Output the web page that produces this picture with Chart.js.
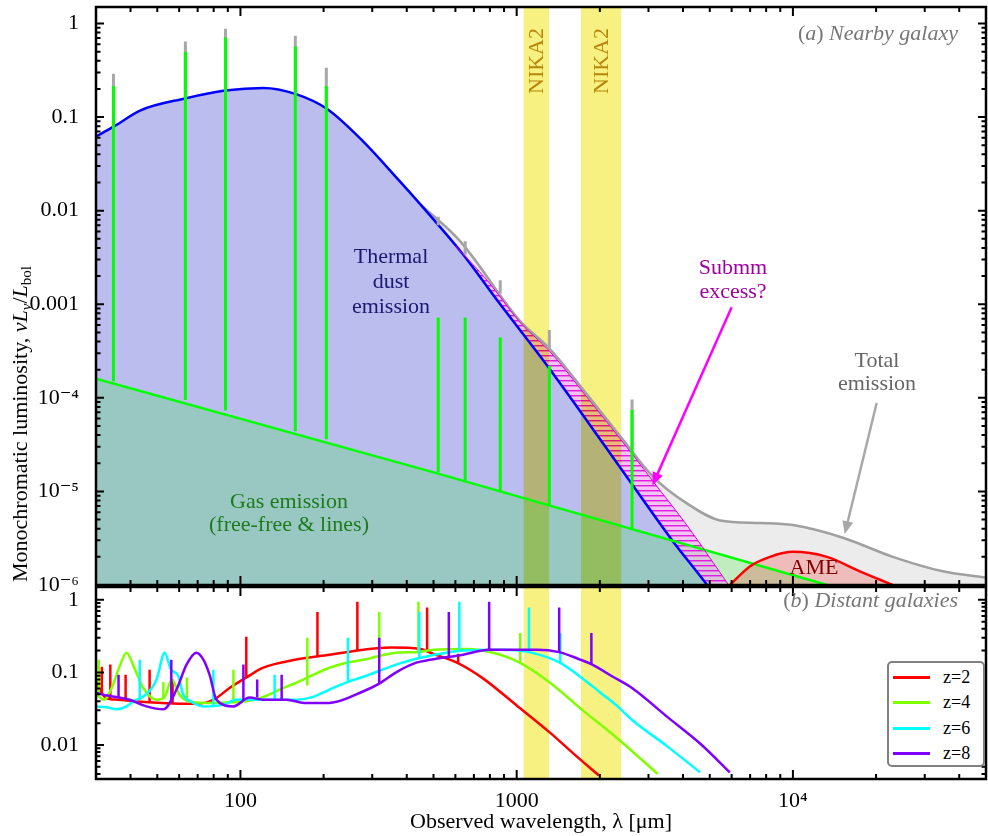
<!DOCTYPE html>
<html>
<head>
<meta charset="utf-8">
<title>Galaxy SEDs - nearby and distant</title>
<script src="https://cdn.jsdelivr.net/npm/chart.js@4.4.1/dist/chart.umd.min.js"></script>
<style>
    body { margin: 0; background: #fff; }
    #wrap { position: relative; width: 988px; height: 836px; overflow: hidden;
            font-family: "Liberation Serif", "DejaVu Serif", serif; color: #000; }
    #wrap canvas { position: absolute; left: 0; }
    #topChart { top: 0; }
    #bottomChart { top: 580px; }
    .note { position: absolute; transform: translate(-50%, -50%); text-align: center;
            white-space: nowrap; font-size: 22px; }
    .panel { position: absolute; right: 30px; transform: translateY(-50%);
             font-size: 22px; color: #777; white-space: nowrap; }
    #yTitle { position: absolute; left: 20px; top: 424px; white-space: nowrap; font-size: 22px;
              transform: translate(-50%, -50%) rotate(-90deg); }
    #yTitle sub { font-size: 15px; vertical-align: -4px; line-height: 0; }
    #legend { position: absolute; left: 887px; top: 661px; width: 98px; height: 106px;
              box-sizing: border-box; border: 2px solid #808080; border-radius: 5px;
              background: #fff; padding-top: 2px; }
    .row { height: 25.3px; display: flex; align-items: center; }
    .swatch { width: 37px; height: 3px; margin-left: 4px; }
    .txt { margin-left: 13px; font-size: 18px; }
</style>
</head>
<body>
<div id="wrap">
    <canvas id="topChart" width="988" height="600"></canvas>
    <canvas id="bottomChart" width="988" height="256"></canvas>

    <div class="note" style="left:391px; top:280px; line-height:25px; color:#191970;">Thermal<br>dust<br>emission</div>
    <div class="note" style="left:733px; top:279px; line-height:24px; color:#a000a0;">Submm<br>excess?</div>
    <div class="note" style="left:877px; top:371px; line-height:23px; color:#666;">Total<br>emission</div>
    <div class="note" style="left:289px; top:512px; line-height:23px; color:#1c7c1c;">Gas emission<br>(free-free &amp; lines)</div>
    <div class="note" style="left:814px; top:567px; color:#800000;">AME</div>
    <div class="panel" style="top:33px;">(<i>a</i>) <i>Nearby galaxy</i></div>
    <div class="panel" style="top:600px;">(<i>b</i>) <i>Distant galaxies</i></div>
    <div id="yTitle">Monochromatic luminosity, <i>νL</i><sub><i>ν</i></sub>/<i>L</i><sub>bol</sub></div>
    <div id="legend"></div>
</div>

<script>
const FONT = '"Liberation Serif", "DejaVu Serif", serif';

// shared wavelength axis [micron]
const xMin = 30, xMax = 50000;
const xTickValues = [100, 1000, 10000];
const xTickLabels = ['100', '1000', '10⁴'];

// panel (a) luminosity axis
const yMinA = 1e-6, yMaxA = 1.5;
const yTickValuesA = [1e-6, 1e-5, 1e-4, 0.001, 0.01, 0.1, 1];
const yTickLabelsA = ['10⁻⁶', '10⁻⁵', '10⁻⁴', '0.001', '0.01', '0.1', '1'];

// panel (b) luminosity axis
const yMinB = 0.0034, yMaxB = 1.5;
const yTickValuesB = [0.01, 0.1, 1];
const yTickLabelsB = ['0.01', '0.1', '1'];

// NIKA2 bands
const nikaFrom = [1060, 1710];
const nikaTo = [1310, 2390];

// ---- panel (a): nearby galaxy ----
const dustLam = [30, 35, 43.5, 63, 88, 121, 158, 206, 278, 370, 449, 640, 850, 1322, 2650, 3670, 4890, 6000];
const dustLum = [0.062, 0.080, 0.118, 0.158, 0.192, 0.205, 0.177, 0.122, 0.055, 0.022, 0.0116, 0.0034, 0.0011, 2.0e-4, 1.13e-5, 2.96e-6, 1.0e-6, 4.4e-7];

const gasLam = [30, 520, 13300];
const gasLum = [1.6e-4, 1.55e-5, 1.0e-6];

const totalLam = [449, 625, 1029, 1322, 1804, 2367, 3104, 4146, 5450, 7600, 10000, 15170, 23000, 34870, 50000];
const totalLum = [0.0116, 0.0047, 6.6e-4, 3.3e-4, 1.07e-4, 3.9e-5, 1.45e-5, 7.4e-6, 4.9e-6, 4.6e-6, 4.37e-6, 3.2e-6, 2.0e-6, 1.4e-6, 1.2e-6];

const excessLam = [600, 782, 1029, 1322, 1804, 2650, 3104, 4146, 5000, 5850];
const excessLum = [0.0042, 0.0018, 6.4e-4, 3.1e-4, 1.0e-4, 2.4e-5, 1.3e-5, 4.3e-6, 1.96e-6, 1.0e-6];

const ameLam = [5920, 6980, 8260, 10000, 13270, 17470, 23000];
const ameLum = [1.0e-6, 1.58e-6, 2.0e-6, 2.26e-6, 2.0e-6, 1.4e-6, 1.0e-6];

// fine-structure and CO lines
const lineLam = [34.7, 63.2, 88.3, 158, 204.6, 520, 651, 872, 1313, 2616];
const lineGasBase = [1.5e-4, 9.5e-5, 7.3e-5, 4.4e-5, 3.6e-5, 1.6e-5, 1.3e-5, 1.0e-5, 7.0e-6, 4.0e-6];
const lineGasTop = [0.215, 0.50, 0.71, 0.566, 0.215, 7.2e-4, 7.2e-4, 4.4e-4, 2.2e-4, 7.4e-5];
const lineTotalBase = [0.08, 0.16, 0.19, 0.177, 0.122, 0.007, 0.0034, 0.0013, 3.3e-4, 2.8e-5];
const lineTotalTop = [0.29, 0.64, 0.88, 0.74, 0.336, 0.0086, 0.0047, 0.0018, 5.3e-4, 9.6e-5];

// annotation arrows [lambda, lum]
const arrowFrom = [[6000, 9.3e-4], [20100, 8.8e-5]];
const arrowTo = [[3100, 1.16e-5], [15400, 3.5e-6]];
const arrowColor = ['#ff00ff', '#a8a8a8'];

// ---- panel (b): distant galaxies ----
const z2ContLam = [30.1, 30.8, 32.5, 36, 45, 60, 70, 80, 91.3, 105, 121, 159, 210, 279, 349, 448, 499, 608, 757, 1000, 1320, 1594, 1985];
const z2ContLum = [0.075, 0.06, 0.045, 0.042, 0.039, 0.037, 0.037, 0.042, 0.061, 0.085, 0.116, 0.15, 0.175, 0.205, 0.22, 0.21, 0.18, 0.136, 0.082, 0.035, 0.0148, 0.0078, 0.0038];
const z2LineLam = [31.5, 33.8, 38.4, 46.9, 56.8, 105, 190, 265, 474, 614];
const z2LineBase = [0.052, 0.044, 0.041, 0.039, 0.038, 0.085, 0.165, 0.2, 0.19, 0.133];
const z2LineTop = [0.12, 0.128, 0.093, 0.109, 0.08, 0.31, 0.68, 0.94, 0.78, 0.18];

const z4ContLam = [30.1, 32, 34.7, 36.5, 38.7, 41.1, 44.6, 49.7, 53, 56.5, 60, 65, 75.4, 105, 121, 138.5, 159, 210, 242, 279, 366, 433, 499, 662, 872, 1030, 1320, 1735, 2300, 3240];
const z4ContLum = [0.05, 0.042, 0.07, 0.12, 0.187, 0.12, 0.06, 0.042, 0.045, 0.08, 0.05, 0.04, 0.038, 0.04, 0.046, 0.058, 0.072, 0.116, 0.136, 0.149, 0.187, 0.19, 0.205, 0.21, 0.175, 0.135, 0.072, 0.03, 0.0126, 0.004];
const z4LineLam = [30.7, 52.6, 64, 94.3, 174.6, 318, 441, 1030];
const z4LineBase = [0.05, 0.044, 0.04, 0.038, 0.066, 0.17, 0.19, 0.135];
const z4LineTop = [0.149, 0.074, 0.085, 0.109, 0.30, 0.68, 0.94, 0.35];

const z6ContLam = [30.1, 32.8, 35.6, 38.7, 41, 45.7, 49.7, 53.2, 56, 59.5, 62, 66, 73.5, 86.8, 96.7, 111.4, 159, 183.6, 210, 245, 279, 366, 433, 486, 640, 872, 1108, 1438, 1735, 2006, 2300, 2630, 3480, 4612];
const z6ContLum = [0.034, 0.033, 0.031, 0.034, 0.04, 0.05, 0.08, 0.187, 0.11, 0.09, 0.05, 0.04, 0.034, 0.036, 0.042, 0.042, 0.042, 0.046, 0.058, 0.074, 0.087, 0.128, 0.154, 0.17, 0.2, 0.205, 0.19, 0.135, 0.082, 0.053, 0.035, 0.0217, 0.0098, 0.0042];
const z6LineLam = [43.2, 79.8, 133, 245, 444, 620, 1108, 1438];
const z6LineBase = [0.042, 0.035, 0.042, 0.074, 0.155, 0.19, 0.19, 0.135];
const z6LineTop = [0.149, 0.109, 0.093, 0.30, 0.68, 0.94, 0.78, 0.35];

const z8ContLam = [30.1, 33, 39.7, 45.7, 52.6, 58.7, 63.8, 69.3, 73.5, 77.3, 81.9, 94.3, 107.8, 121, 147, 170, 210, 279, 318, 366, 433, 486, 640, 795, 967, 1185, 1425, 1698, 1864, 2230, 2630, 3480, 4612, 5910];
const z8ContLum = [0.052, 0.048, 0.042, 0.034, 0.031, 0.058, 0.128, 0.187, 0.149, 0.093, 0.042, 0.034, 0.045, 0.042, 0.042, 0.038, 0.038, 0.055, 0.07, 0.1, 0.136, 0.149, 0.175, 0.205, 0.205, 0.205, 0.19, 0.15, 0.13, 0.087, 0.06, 0.025, 0.0105, 0.0042];
const z8LineLam = [36.2, 56.2, 102.5, 115, 141, 318, 568, 795, 1425, 1864];
const z8LineBase = [0.045, 0.04, 0.042, 0.045, 0.042, 0.07, 0.16, 0.205, 0.19, 0.13];
const z8LineTop = [0.093, 0.149, 0.128, 0.08, 0.093, 0.30, 0.68, 0.94, 0.78, 0.35];

const zNames = ['z=2', 'z=4', 'z=6', 'z=8'];
const zColors = ['#ff0000', '#7fff00', '#00ffff', '#7f00ff'];


function pts(lam, lum) {
    return lam.map((l, i) => ({ x: l, y: lum[i] }));
}

// vertical line segments separated by gaps
function spikes(lam, lo, hi) {
    const out = [];
    lam.forEach((l, i) => {
        out.push({ x: l, y: lo[i] }, { x: l, y: hi[i] }, { x: l, y: null });
    });
    return out;
}

function minorTicks(min, max) {
    const out = [];
    for (let e = Math.floor(Math.log10(min)); Math.pow(10, e) < max; e++) {
        for (let m = 2; m <= 9; m++) {
            const v = m * Math.pow(10, e);
            if (v > min && v < max) out.push(v);
        }
    }
    return out;
}

function makeHatch() {
    const c = document.createElement('canvas');
    c.width = 8; c.height = 5;
    const g = c.getContext('2d');
    g.fillStyle = 'rgba(250,150,250,0.45)';
    g.fillRect(0, 0, 8, 5);
    g.fillStyle = 'rgb(225,30,225)';
    g.fillRect(0, 0, 8, 1);
    g.fillStyle = 'rgba(225,30,225,0.45)';
    g.fillRect(0, 1, 8, 1);
    return g.createPattern(c, 'repeat');
}

// frame with inward ticks on all four sides (Mathematica style)
const frameTicks = {
    id: 'frameTicks',
    afterDatasetsDraw(chart, args, opts) {
        const { ctx, chartArea: a } = chart;
        const x = chart.scales.x, y = chart.scales.y;
        ctx.save();
        ctx.strokeStyle = '#000';
        ctx.lineWidth = 2;
        ctx.beginPath();
        const xt = (list, len) => list.forEach(v => {
            const px = x.getPixelForValue(v);
            ctx.moveTo(px, a.top); ctx.lineTo(px, a.top + len);
            ctx.moveTo(px, a.bottom); ctx.lineTo(px, a.bottom - len);
        });
        const yt = (list, len) => list.forEach(v => {
            const py = y.getPixelForValue(v);
            ctx.moveTo(a.left, py); ctx.lineTo(a.left + len, py);
            ctx.moveTo(a.right, py); ctx.lineTo(a.right - len, py);
        });
        xt(xTickValues, 9);
        xt(minorTicks(xMin, xMax), 5);
        yt(opts.major, 8);
        yt(minorTicks(opts.min, opts.max), 4.5);
        ctx.stroke();
        ctx.lineWidth = 2.5;
        ctx.strokeRect(a.left, a.top, a.right - a.left, a.bottom - a.top);
        ctx.restore();
    }
};

// NIKA2 bands: over the fills, under the lines
const nikaBands = {
    id: 'nikaBands',
    beforeDatasetsDraw(chart, args, opts) {
        const { ctx, chartArea: a } = chart;
        const x = chart.scales.x;
        ctx.save();
        ctx.beginPath();
        ctx.rect(a.left, a.top, a.right - a.left, a.bottom - a.top);
        ctx.clip();
        ctx.globalCompositeOperation = 'multiply';
        ctx.fillStyle = 'rgb(246,241,128)';
        nikaFrom.forEach((lo, i) => {
            const x0 = x.getPixelForValue(lo), x1 = x.getPixelForValue(nikaTo[i]);
            ctx.fillRect(x0, a.top, x1 - x0, a.bottom - a.top);
        });
        ctx.globalCompositeOperation = 'source-over';
        if (opts.labels) {
            ctx.fillStyle = '#b8860b';
            ctx.font = '22px ' + FONT;
            ctx.textAlign = 'center';
            ctx.textBaseline = 'middle';
            nikaFrom.forEach((lo, i) => {
                const xc = (x.getPixelForValue(lo) + x.getPixelForValue(nikaTo[i])) / 2;
                ctx.save();
                ctx.translate(xc + 1, a.top + 54);
                ctx.rotate(-Math.PI / 2);
                ctx.fillText('NIKA2', 0, 0);
                ctx.restore();
            });
        }
        ctx.restore();
    }
};

const arrows = {
    id: 'arrows',
    afterDatasetsDraw(chart) {
        const { ctx } = chart;
        const x = chart.scales.x, y = chart.scales.y;
        arrowFrom.forEach((p, i) => {
            const x0 = x.getPixelForValue(p[0]), y0 = y.getPixelForValue(p[1]);
            const x1 = x.getPixelForValue(arrowTo[i][0]), y1 = y.getPixelForValue(arrowTo[i][1]);
            const ang = Math.atan2(y1 - y0, x1 - x0);
            const head = 13, half = 5.5;
            const c = Math.cos(ang), s = Math.sin(ang);
            ctx.save();
            ctx.strokeStyle = arrowColor[i];
            ctx.fillStyle = arrowColor[i];
            ctx.lineWidth = 2.5;
            ctx.beginPath();
            ctx.moveTo(x0, y0);
            ctx.lineTo(x1 - head * 0.8 * c, y1 - head * 0.8 * s);
            ctx.stroke();
            ctx.beginPath();
            ctx.moveTo(x1, y1);
            ctx.lineTo(x1 - head * c + half * s, y1 - head * s - half * c);
            ctx.lineTo(x1 - head * c - half * s, y1 - head * s + half * c);
            ctx.closePath();
            ctx.fill();
            ctx.restore();
        });
    }
};

Chart.defaults.font.family = FONT;
Chart.defaults.color = '#000';
Chart.defaults.elements.point.radius = 0;
Chart.defaults.elements.line.borderWidth = 2.5;

function logX(showLabels) {
    return {
        type: 'logarithmic', min: xMin, max: xMax, display: showLabels,
        afterBuildTicks: s => { s.ticks = xTickValues.map(v => ({ value: v })); },
        afterFit: s => {
            s.height = showLabels ? 57 : 0;
            s.paddingLeft = 0;
            s.paddingRight = 0;
        },
        grid: { display: false },
        border: { display: false },
        ticks: { callback: (v, i) => xTickLabels[i], font: { size: 22 }, padding: 1, maxRotation: 0, autoSkip: false },
        title: { display: showLabels, text: 'Observed wavelength, λ [μm]', font: { size: 22 }, padding: { top: 0, bottom: 1 } }
    };
}

function logY(min, max, values, labels) {
    return {
        type: 'logarithmic', min: min, max: max,
        afterBuildTicks: s => { s.ticks = values.map(v => ({ value: v })); },
        afterFit: s => {
            s.width = 96;
            s.paddingTop = 0;
            s.paddingBottom = 0;
        },
        grid: { display: false },
        border: { display: false },
        ticks: { callback: (v, i) => labels[i], font: { size: 22 }, padding: 9, autoSkip: false }
    };
}

const hatch = makeHatch();

const topChart = new Chart(document.getElementById('topChart'), {
    type: 'line',
    data: {
        datasets: [
            { label: 'Total emission', data: pts(totalLam, totalLum), borderColor: '#a0a0a0',
              backgroundColor: '#ececec', fill: 'start', order: 10, cubicInterpolationMode: 'monotone' },
            { label: 'Thermal dust emission', data: pts(dustLam, dustLum), borderColor: '#0000ff',
              backgroundColor: 'rgb(187,189,238)', fill: 'start', order: 9, cubicInterpolationMode: 'monotone' },
            { label: 'Gas emission', data: pts(gasLam, gasLum), borderColor: '#00ff00',
              backgroundColor: 'rgba(20,240,20,0.2)', fill: 'start', order: 8 },
            { label: 'AME', data: pts(ameLam, ameLum), borderColor: '#ff0000',
              backgroundColor: 'rgba(255,0,0,0.2)', fill: 'start', order: 7, cubicInterpolationMode: 'monotone' },
            { label: 'Submm excess', data: pts(excessLam, excessLum), borderColor: '#e000e0', borderWidth: 1,
              backgroundColor: hatch, fill: 1, order: 6, cubicInterpolationMode: 'monotone' },
            { label: 'Lines (total)', data: spikes(lineLam, lineTotalBase, lineTotalTop),
              borderColor: '#a8a8a8', borderWidth: 3, fill: false, order: 5 },
            { label: 'Lines (gas)', data: spikes(lineLam, lineGasBase, lineGasTop),
              borderColor: '#00ff00', borderWidth: 3, fill: false, order: 4 }
        ]
    },
    options: {
        responsive: false,
        animation: false,
        events: [],
        layout: { padding: { top: 7, right: 2, bottom: 15, left: 0 } },
        scales: { x: logX(false), y: logY(yMinA, yMaxA, yTickValuesA, yTickLabelsA) },
        plugins: {
            legend: { display: false },
            tooltip: { enabled: false },
            filler: { propagate: false, drawTime: 'beforeDatasetsDraw' },
            nikaBands: { labels: true },
            frameTicks: { major: yTickValuesA, min: yMinA, max: yMaxA }
        }
    },
    plugins: [nikaBands, arrows, frameTicks]
});

const zCont = [[z2ContLam, z2ContLum], [z4ContLam, z4ContLum], [z6ContLam, z6ContLum], [z8ContLam, z8ContLum]];
const zLines = [[z2LineLam, z2LineBase, z2LineTop], [z4LineLam, z4LineBase, z4LineTop],
                [z6LineLam, z6LineBase, z6LineTop], [z8LineLam, z8LineBase, z8LineTop]];

const bottomSets = [];
zNames.forEach((name, i) => {
    bottomSets.push({ label: name, data: pts(zCont[i][0], zCont[i][1]), borderColor: zColors[i],
                      fill: false, order: 20 - 2 * i, cubicInterpolationMode: 'monotone' });
    bottomSets.push({ label: '', data: spikes(zLines[i][0], zLines[i][1], zLines[i][2]), borderColor: zColors[i],
                      fill: false, order: 19 - 2 * i });
});

const bottomChart = new Chart(document.getElementById('bottomChart'), {
    type: 'line',
    data: { datasets: bottomSets },
    options: {
        responsive: false,
        animation: false,
        events: [],
        layout: { padding: { top: 7, right: 2, bottom: 0, left: 0 } },
        scales: { x: logX(true), y: logY(yMinB, yMaxB, yTickValuesB, yTickLabelsB) },
        plugins: {
            legend: { display: false },
            tooltip: { enabled: false },
            nikaBands: { labels: false },
            frameTicks: { major: yTickValuesB, min: yMinB, max: yMaxB }
        }
    },
    plugins: [nikaBands, frameTicks]
});

// legend box inside panel (b)
const legendBox = document.getElementById('legend');
bottomChart.data.datasets.filter(d => d.label).forEach(d => {
    const row = document.createElement('div');
    row.className = 'row';
    const sw = document.createElement('span');
    sw.className = 'swatch';
    sw.style.background = d.borderColor;
    const tx = document.createElement('span');
    tx.className = 'txt';
    tx.textContent = d.label;
    row.appendChild(sw);
    row.appendChild(tx);
    legendBox.appendChild(row);
});
</script>
</body>
</html>
